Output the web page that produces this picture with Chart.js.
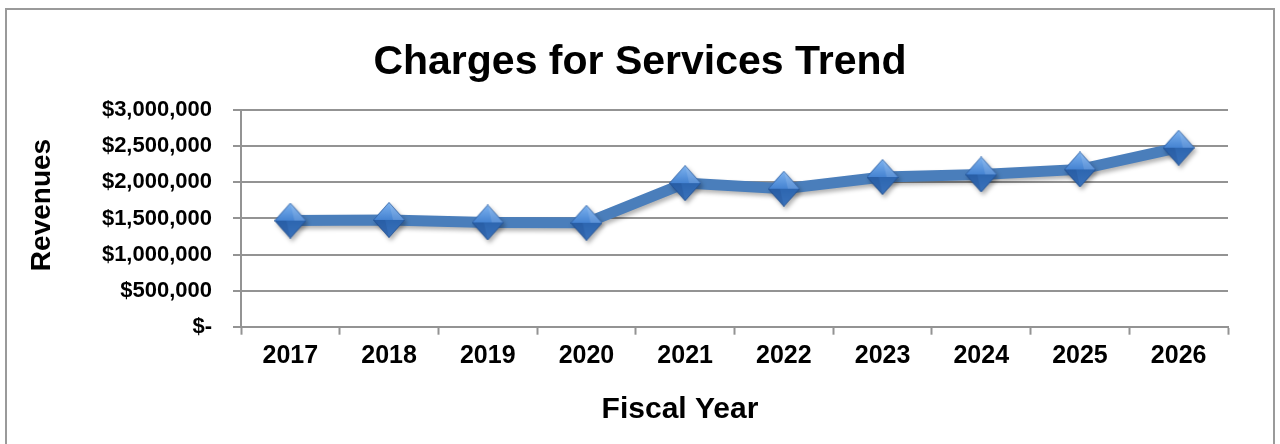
<!DOCTYPE html>
<html>
<head>
<meta charset="utf-8">
<title>Charges for Services Trend</title>
<script src="https://cdn.jsdelivr.net/npm/chart.js@4.4.1/dist/chart.umd.min.js"></script>
<style>
  html, body {
    margin: 0;
    padding: 0;
    background: #ffffff;
  }
  #wrap {
    position: relative;
    width: 1280px;
    height: 444px;
    overflow: hidden;
  }
  #frame {
    position: absolute;
    left: 5px;
    top: 8px;
    width: 1266px;
    height: 480px;
    border: 2px solid #9a9a9a;
    pointer-events: none;
  }
  #trendChart {
    position: absolute;
    left: 0;
    top: 0;
  }
</style>
</head>
<body>
<div id="wrap">
  <div id="frame"></div>
  <canvas id="trendChart" width="1280" height="444"></canvas>
</div>
<script>
const fiscalYears = ["2017", "2018", "2019", "2020", "2021", "2022", "2023", "2024", "2025", "2026"];
const revenues = [1470000, 1480000, 1445000, 1440000, 1990000, 1912000, 2075000, 2110000, 2180000, 2480000];
const revenueTicks = [0, 500000, 1000000, 1500000, 2000000, 2500000, 3000000];

const fontFamily = "'Liberation Sans', Arial, Helvetica, sans-serif";
const gridGray = "#939393";
const lineBlue = "#4a7ebb";

// Bevelled diamond used as the point marker
function makeDiamond() {
  const w = 32;
  const h = 36;
  const c = document.createElement("canvas");
  c.width = w;
  c.height = h;
  const g = c.getContext("2d");
  const cx = w / 2;
  const cy = h / 2;

  // upper half, lighter
  let grad = g.createLinearGradient(0, 0, 0, cy);
  grad.addColorStop(0, "#7fb4f0");
  grad.addColorStop(1, "#4583d2");
  g.fillStyle = grad;
  g.beginPath();
  g.moveTo(cx, 0);
  g.lineTo(w, cy);
  g.lineTo(0, cy);
  g.closePath();
  g.fill();

  // lower half, darker
  grad = g.createLinearGradient(0, cy, 0, h);
  grad.addColorStop(0, "#2d66b0");
  grad.addColorStop(1, "#3a72bb");
  g.fillStyle = grad;
  g.beginPath();
  g.moveTo(0, cy);
  g.lineTo(w, cy);
  g.lineTo(cx, h);
  g.closePath();
  g.fill();

  // side facets
  g.fillStyle = "rgba(20, 60, 120, 0.18)";
  g.beginPath();
  g.moveTo(0, cy);
  g.lineTo(cx, h);
  g.lineTo(cx - 4, cy);
  g.closePath();
  g.fill();
  g.fillStyle = "rgba(255, 255, 255, 0.12)";
  g.beginPath();
  g.moveTo(cx, 0);
  g.lineTo(cx + 4, cy);
  g.lineTo(w, cy);
  g.closePath();
  g.fill();

  g.strokeStyle = "rgba(30, 70, 130, 0.55)";
  g.lineWidth = 1;
  g.beginPath();
  g.moveTo(cx, 0.5);
  g.lineTo(w - 0.5, cy);
  g.lineTo(cx, h - 0.5);
  g.lineTo(0.5, cy);
  g.closePath();
  g.stroke();
  return c;
}

// Soft drop shadow under the series
const seriesShadow = {
  id: "seriesShadow",
  beforeDatasetsDraw(chart) {
    const ctx = chart.ctx;
    ctx.save();
    ctx.shadowColor = "rgba(0, 0, 0, 0.3)";
    ctx.shadowBlur = 4;
    ctx.shadowOffsetX = 2;
    ctx.shadowOffsetY = 3;
  },
  afterDatasetsDraw(chart) {
    chart.ctx.restore();
  },
};

// Axis titles, placed the way the spreadsheet lays them out
const axisTitles = {
  id: "axisTitles",
  afterDraw(chart) {
    const ctx = chart.ctx;
    ctx.save();
    ctx.fillStyle = "#000000";
    ctx.textAlign = "center";
    ctx.textBaseline = "alphabetic";

    ctx.font = "bold 30px " + fontFamily;
    ctx.fillText("Fiscal Year", 680, 418);

    ctx.translate(50, 205);
    ctx.rotate(-Math.PI / 2);
    ctx.font = "bold 28px " + fontFamily;
    ctx.fillText("Revenues", 0, 0);
    ctx.restore();
  },
};

const ctx = document.getElementById("trendChart").getContext("2d");
const trendChart = new Chart(ctx, {
  type: "line",
  data: {
    labels: fiscalYears,
    datasets: [
      {
        label: "Revenues",
        data: revenues,
        borderColor: lineBlue,
        backgroundColor: lineBlue,
        borderWidth: 11,
        tension: 0,
        fill: false,
        pointStyle: makeDiamond(),
        pointRadius: 16,
        pointHoverRadius: 16,
      },
    ],
  },
  options: {
    responsive: false,
    animation: false,
    events: [],
    layout: {
      padding: 0,
    },
    plugins: {
      legend: { display: false },
      tooltip: { enabled: false },
      title: {
        display: true,
        text: "Charges for Services Trend",
        color: "#000000",
        font: { family: fontFamily, size: 41, weight: "bold" },
        padding: { top: 38, bottom: 23 },
      },
    },
    scales: {
      x: {
        offset: true,
        grid: {
          offset: true,
          drawOnChartArea: false,
          drawTicks: true,
          tickLength: 8,
          tickWidth: 2,
          tickColor: gridGray,
        },
        border: { display: true, color: gridGray, width: 2 },
        ticks: {
          color: "#000000",
          padding: 6,
          maxRotation: 0,
          font: { family: fontFamily, size: 25, weight: "bold" },
        },
        afterFit(scale) {
          scale.height = 117.3;
        },
      },
      y: {
        min: 0,
        max: 3000000,
        afterBuildTicks(scale) {
          scale.ticks = revenueTicks.map((v) => ({ value: v }));
        },
        grid: {
          color: gridGray,
          lineWidth: 2,
          drawTicks: true,
          tickLength: 8,
          tickColor: gridGray,
        },
        border: { display: true, color: gridGray, width: 2 },
        ticks: {
          color: "#000000",
          padding: 21,
          font: { family: fontFamily, size: 22, weight: "bold" },
          callback: function (value) {
            if (value === 0) return "$-";
            return "$" + value.toLocaleString("en-US");
          },
        },
        afterFit(scale) {
          scale.width = 241;
        },
      },
      // empty strip on the right so the plot stops short of the frame
      rightGap: {
        position: "right",
        display: true,
        grid: { display: false, drawTicks: false },
        border: { display: false },
        ticks: { display: false },
        afterFit(scale) {
          scale.width = 52;
        },
      },
    },
  },
  plugins: [seriesShadow, axisTitles],
});
</script>
</body>
</html>
